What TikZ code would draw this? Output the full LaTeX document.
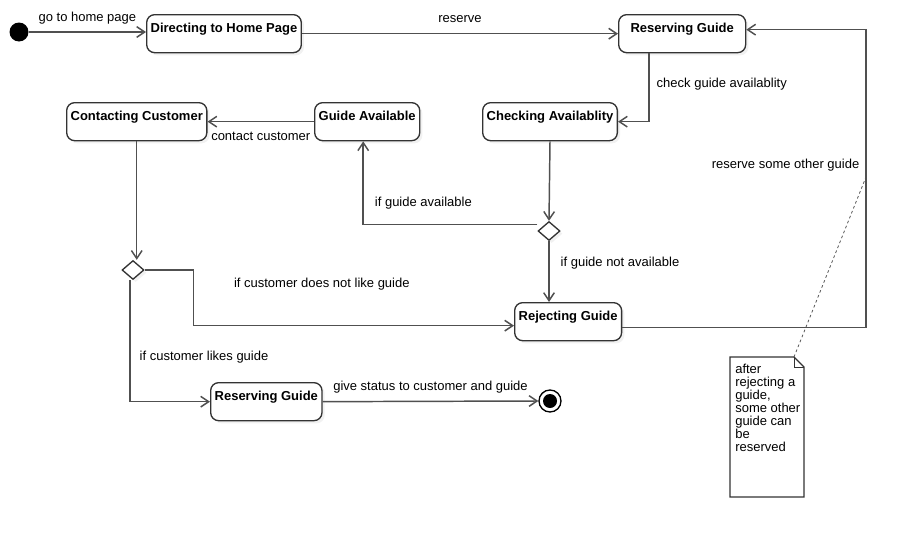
\documentclass[tikz,border=0pt]{standalone}
\usepackage{fontspec}
\setmainfont{Liberation Sans}
\usepackage{tikz}
\usetikzlibrary{shapes.geometric, arrows.meta, positioning, calc, shadows}
\definecolor{umlline}{HTML}{505050}
\definecolor{umlbox}{HTML}{333333}
\definecolor{umlshade}{HTML}{E4E4E4}

\begin{document}
\begin{tikzpicture}[
  x=0.75pt, y=-0.75pt,
  every node/.style={font=\fontsize{9.75pt}{9.75pt}\selectfont},
  statebox/.style={draw=umlbox, fill=white, rounded corners=6pt, line width=1pt, anchor=north west,
    inner xsep=3pt, inner ysep=3pt, text height=10.3pt, text depth=12.2pt,
    font=\fontsize{9.75pt}{9.75pt}\selectfont\bfseries,
    drop shadow={shadow xshift=2pt, shadow yshift=-2pt, fill=umlshade}},
  choice/.style={diamond, draw=umlbox, fill=white, line width=1pt, inner sep=0pt,
    minimum width=16.5pt, minimum height=14.25pt,
    drop shadow={shadow xshift=2pt, shadow yshift=-2pt, fill=umlshade}},
  startdot/.style={circle, fill=black, minimum size=14.25pt, inner sep=0pt},
  enddot/.style={circle, draw=black, fill=white, line width=1pt, minimum size=16.5pt, inner sep=0pt,
    path picture={\fill[black] (path picture bounding box.center) circle (5.25pt);}},
  flow/.style={draw=umlline, line width=1.1pt, -{Straight Barb[length=6pt, width=8pt]}},
  lbl/.style={inner sep=0pt}
]
\useasboundingbox (0,0) rectangle (907,539);

\node[startdot] (init) at (19,32) {};
\node[statebox] (home) at (146,14) {Directing to Home Page};
\node[statebox, minimum width=95.25pt] (rsv) at (618,14) {Reserving Guide};
\node[statebox] (check) at (482,102) {Checking Availablity};
\node[statebox] (avail) at (314,102) {Guide Available};
\node[statebox] (contact) at (66,102) {Contacting Customer};
\node[statebox] (reject) at (514,302) {Rejecting Guide};
\node[statebox] (rsvok) at (210,382) {Reserving Guide};
\node[choice] (dec1) at (549,231) {};
\node[choice] (dec2) at (133,270) {};
\node[enddot] (fin) at (550,401) {};

\coordinate (notenw) at (730,357);
\coordinate (notese) at (804,497);
\coordinate (notefold) at (794,357);
\coordinate (notetip) at (866,177);

\draw[flow] (init.east) -- (init.east -| home.west)
  node[lbl, midway, anchor=base, yshift=7.9pt] (lhome) {go to home page};
\draw[flow] (home) -- (rsv)
  node[lbl, midway, anchor=base, yshift=8.25pt] (lrsv) {reserve};
\draw[flow] ([xshift=23.25pt]rsv.south west) |- (check)
  node[lbl, pos=0.25, anchor=base west, xshift=5.25pt] (lcheck) {check guide availablity};
\draw[flow] (check.south) -- (dec1.north);
\draw[flow] ([yshift=5pt]dec1.west) -| ([xshift=-3pt]avail.south)
  node[lbl, pos=0.5, anchor=base west, xshift=8.25pt, yshift=13.5pt] (lavail) {if guide available};
\draw[flow] (dec1.south) -- (dec1.south |- reject.north)
  node[lbl, midway, anchor=base west, xshift=8.25pt, yshift=3.75pt] (lnot) {if guide not available};
\draw[flow] (avail) -- (contact)
  node[lbl, midway, anchor=base, yshift=-14.25pt] (lcontact) {contact customer};
\draw[flow] (contact.south) -- (contact.south |- dec2.north);
\draw[flow] (dec2.east) -- ++(49,0) |- ([yshift=-3pt]reject.west)
  node[lbl, pos=0.7, anchor=base, yshift=28.5pt] (ldislike) {if customer does not like guide};
\draw[flow] ([xshift=-2.25pt]dec2.south) |- (rsvok.west)
  node[lbl, pos=0.33, anchor=base west, xshift=6.75pt] (llike) {if customer likes guide};
\draw[flow] (rsvok.east) -- (fin.west)
  node[lbl, midway, anchor=base, yshift=8.25pt] (lstatus) {give status to customer and guide};
\draw[flow] ([yshift=-4.5pt]reject.east) -| (notetip) |- ([yshift=3pt]rsv.east)
  node[lbl, pos=0, anchor=base east, xshift=-4.5pt, yshift=6.75pt] (lother) {reserve some other guide};

\draw[draw=umlbox, line width=1pt, fill=white] (notenw) -- (notefold) -- ++(10,10) -- (notese)
  -- (notenw |- notese) -- cycle;
\draw[draw=umlbox, line width=0.6pt] (notefold) -- ++(0,10) -- ++(10,0);
\node[lbl, anchor=north west, align=left] (note) at (735,363.5)
  {after\\rejecting a\\guide,\\some other\\guide can\\be\\reserved};
\draw[umlline, line width=0.6pt, dash pattern=on 2pt off 2pt] (notefold) -- (notetip);
\end{tikzpicture}
\end{document}
